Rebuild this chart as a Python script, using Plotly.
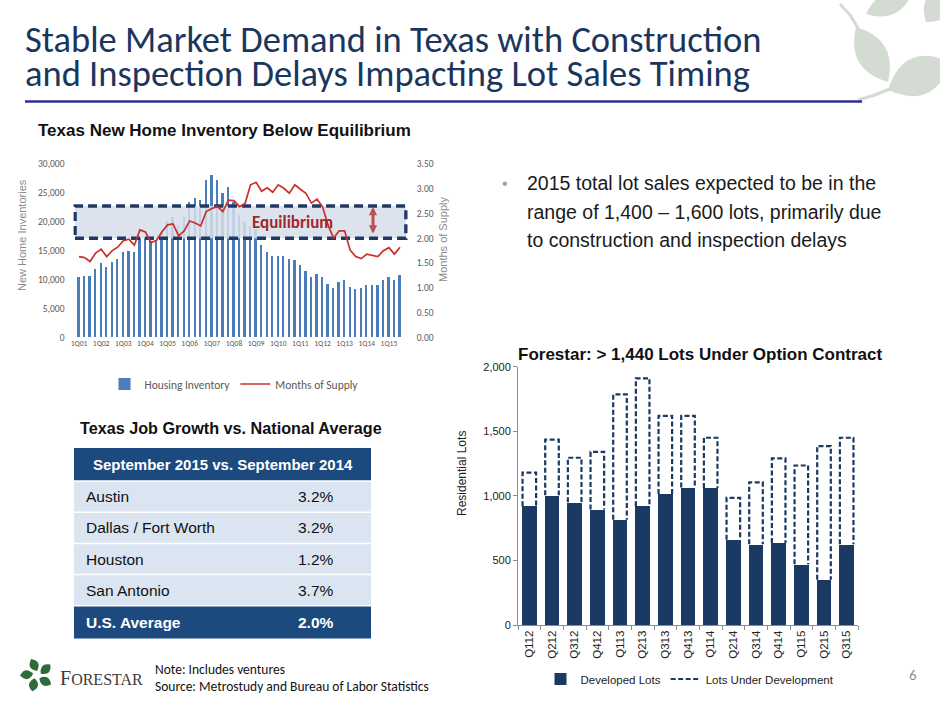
import math
import plotly.graph_objects as go

W, H = 940, 705


def px(x):
    return x / W


def py(y):
    return 1 - y / H


NARROW = "Liberation Sans Narrow, Arial Narrow, Liberation Sans, Arial, sans-serif"
CAL = "Carlito, Calibri, Lato, sans-serif"
NAVY = "#1b365d"

# ---------------- data: Texas new home inventory ----------------
quarters = [f"{q}Q{y:02d}" for y in range(1, 16) for q in range(1, 5)][:59]
housing_inventory = [
    10500, 10600, 10600, 11800, 12900, 12100, 13000, 13600, 14800, 15000,
    14800, 17300, 17300, 16700, 16800, 18300, 20200, 20900, 19300, 20900,
    23500, 24100, 23800, 27200, 28100, 27200, 24900, 26000, 23500, 21200,
    20000, 19200, 18800, 16000, 14700, 14000, 14100, 14100, 13500, 13300,
    12600, 11400, 10400, 10900, 10500, 9300, 8500, 9500, 10000, 8700,
    8300, 8500, 9100, 9100, 9100, 10000, 10500, 9900, 10800,
]
months_of_supply = [
    1.63, 1.61, 1.53, 1.70, 1.78, 1.63, 1.75, 1.82, 1.95, 1.98,
    1.86, 2.17, 2.13, 1.91, 1.96, 2.13, 2.27, 2.29, 2.05, 2.15,
    2.35, 2.31, 2.25, 2.54, 2.60, 2.64, 2.54, 2.77, 2.76, 2.64,
    2.70, 3.08, 3.13, 2.95, 3.02, 2.93, 3.08, 3.01, 2.91, 3.08,
    2.99, 2.91, 2.71, 2.79, 2.64, 2.27, 2.00, 2.15, 2.15, 1.76,
    1.63, 1.59, 1.68, 1.65, 1.63, 1.75, 1.81, 1.68, 1.82,
]
inventory_tick_labels = [f"1Q{y:02d}" for y in range(1, 16)]
equilibrium_band = [2.0, 2.65]

# ---------------- data: Forestar lots ----------------
lot_quarters = ["Q112", "Q212", "Q312", "Q412", "Q113", "Q213", "Q313", "Q413",
                "Q114", "Q214", "Q314", "Q414", "Q115", "Q215", "Q315"]
developed_lots = [920, 1005, 950, 895, 815, 920, 1015, 1065, 1060, 660, 625, 635, 470, 350, 625]
lots_under_development = [260, 430, 345, 445, 970, 990, 605, 555, 390, 325, 480, 655, 765, 1035, 825]

# ---------------- data: job growth table ----------------
table_header = "September 2015 vs. September 2014"
table_markets = ["Austin", "Dallas / Fort Worth", "Houston", "San Antonio", "U.S. Average"]
table_growth = ["3.2%", "3.2%", "1.2%", "3.7%", "2.0%"]

fig = go.Figure()

# ---- top chart ----
qidx = list(range(len(quarters)))
fig.add_trace(go.Bar(
    x=qidx, y=housing_inventory, name="Housing Inventory",
    marker=dict(color="#4a7ebb", line=dict(width=0)), width=0.42,
    xaxis="x", yaxis="y", legend="legend",
))
# equilibrium band (drawn between bars and line)
bx0, bx1 = -0.72, len(quarters) - 1 + 1.08
fig.add_trace(go.Scatter(
    x=[bx0, bx1, bx1, bx0, bx0],
    y=[equilibrium_band[0], equilibrium_band[0], equilibrium_band[1], equilibrium_band[1], equilibrium_band[0]],
    mode="lines", fill="toself", fillcolor="rgba(214,222,234,0.85)",
    line=dict(color="#1f3864", width=3.5, dash="9px,5px"),
    showlegend=False, hoverinfo="skip", xaxis="x", yaxis="y2",
))
fig.add_trace(go.Scatter(
    x=qidx, y=months_of_supply, name="Months of Supply", mode="lines",
    line=dict(color="#c9302c", width=1.7),
    xaxis="x", yaxis="y2", legend="legend",
))

# ---- bottom chart ----
lidx = list(range(len(lot_quarters)))
fig.add_trace(go.Bar(
    x=lidx, y=developed_lots, name="Developed Lots",
    marker=dict(color="#1b3a63", line=dict(width=0)), width=0.65,
    xaxis="x2", yaxis="y3", legend="legend2",
))
xs, ys = [], []
for i, d, u in zip(lidx, developed_lots, lots_under_development):
    l, r = i - 0.3, i + 0.3
    xs += [l, l, r, r, None]
    ys += [d, d + u, d + u, d, None]
fig.add_trace(go.Scatter(
    x=xs, y=ys, mode="lines", name="Lots Under Development",
    line=dict(color="#1b3a63", width=2.2, dash="5px,2.5px"),
    xaxis="x2", yaxis="y3", legend="legend2", connectgaps=False,
))

spacing = 5.534
x0pix = 79
xr = [-1.0, len(quarters) - 1 + 1.4]
dom_l = x0pix + xr[0] * spacing
dom_r = x0pix + xr[1] * spacing

fig.update_layout(
    width=W, height=H, margin=dict(l=0, r=0, t=0, b=0, pad=0, autoexpand=False),
    paper_bgcolor="white", plot_bgcolor="rgba(0,0,0,0)",
    barmode="overlay", bargap=0,
    font=dict(family=CAL, color="#595959"),
    xaxis=dict(
        domain=[px(dom_l), px(dom_r)], anchor="y", range=xr, automargin=False,
        tickvals=[qidx[quarters.index(t)] for t in inventory_tick_labels],
        ticktext=inventory_tick_labels, tickangle=0,
        tickfont=dict(size=7.6, color="#595959", family=CAL),
        showgrid=False, zeroline=False, showline=False, ticks="",
    ),
    yaxis=dict(
        domain=[py(337.3), py(164)], anchor="x", range=[0, 30000], automargin=False,
        tickvals=[0, 5000, 10000, 15000, 20000, 25000, 30000], tickformat=",",
        tickfont=dict(size=9.5, color="#595959", family=CAL),
        showgrid=False, zeroline=False, showline=False, ticks="",
        ticklabelstandoff=8,
    ),
    yaxis2=dict(
        overlaying="y", side="right", anchor="x", range=[0, 3.5], automargin=False,
        tickvals=[0, 0.5, 1, 1.5, 2, 2.5, 3, 3.5], tickformat=".2f",
        tickfont=dict(size=9.5, color="#595959", family=CAL),
        showgrid=False, zeroline=False, showline=False, ticks="",
        ticklabelstandoff=8,
    ),
    xaxis2=dict(
        domain=[px(518), px(858)], anchor="y3", range=[-0.5, len(lot_quarters) - 0.5],
        automargin=False,
        tickvals=lidx, ticktext=lot_quarters, tickangle=-90,
        tickfont=dict(size=11.5, color="#222222", family=NARROW),
        showgrid=False, zeroline=False, showline=True, linecolor="#8c8c8c", linewidth=1,
        ticks="",
        minor=dict(tickvals=[i - 0.5 for i in lidx] + [len(lidx) - 0.5], ticks="outside",
                   ticklen=4, tickcolor="#8c8c8c", showgrid=False),
    ),
    yaxis3=dict(
        domain=[py(625), py(366.7)], anchor="x2", range=[0, 2000], automargin=False,
        tickvals=[0, 500, 1000, 1500, 2000], tickformat=",",
        tickfont=dict(size=11, color="#222222", family=NARROW),
        showgrid=False, zeroline=False, showline=True, linecolor="#8c8c8c", linewidth=1,
        ticks="outside", ticklen=4, tickcolor="#8c8c8c",
    ),
    legend=dict(
        orientation="h", x=px(234), xanchor="center", y=py(384), yanchor="middle",
        font=dict(size=11.5, color="#595959", family=CAL), bgcolor="rgba(0,0,0,0)",
        itemwidth=30,
    ),
    legend2=dict(
        orientation="h", x=px(690), xanchor="center", y=py(679), yanchor="middle",
        font=dict(size=11.5, color="#222222", family=NARROW), bgcolor="rgba(0,0,0,0)",
        itemwidth=30,
    ),
)

shapes = []
annotations = []


def ann(x, y, text, size, color="#111111", family=NARROW, xanchor="left", **kw):
    d = dict(x=px(x), y=py(y), xref="paper", yref="paper", text=text, showarrow=False,
             xanchor=xanchor, yanchor="middle", font=dict(size=size, color=color, family=family))
    d.update(kw)
    annotations.append(d)


# Title
ann(23, 39.5, "Stable Market Demand in Texas with Construction", 36.5, NAVY, CAL)
ann(23, 73.5, "and Inspection Delays Impacting Lot Sales Timing", 36.5, NAVY, CAL)
shapes.append(dict(type="line", xref="paper", yref="paper", x0=px(25), x1=px(862),
                   y0=py(101.5), y1=py(101.5), line=dict(color="#2e3192", width=2.5)))

# decorative leaves top right
LEAF = "#d4dbd3"


def leaf(base, tip, w):
    bx, by = base
    tx, ty = tip
    mx, my = (bx + tx) / 2, (by + ty) / 2
    dx, dy = tx - bx, ty - by
    L = math.hypot(dx, dy)
    nx, ny = -dy / L, dx / L
    c1 = (mx + nx * w, my + ny * w)
    c2 = (mx - nx * w, my - ny * w)
    def p(pt):
        return f"{px(pt[0]):.5f},{py(pt[1]):.5f}"
    return f"M {p(base)} Q {p(c1)} {p(tip)} Q {p(c2)} {p(base)} Z"


def leaf_shape(base, tip, w, color):
    shapes.append(dict(type="path", xref="paper", yref="paper", path=leaf(base, tip, w),
                       fillcolor=color, line=dict(width=0), layer="below"))


def stem(pts, color, width):
    s = "M " + " L ".join(f"{px(a):.5f},{py(b):.5f}" for a, b in pts)
    shapes.append(dict(type="path", xref="paper", yref="paper", path=s,
                       line=dict(color=color, width=width), layer="below"))


stem([(840, 4), (850, 15), (858, 28)], LEAF, 3)
leaf_shape((856, 27), (888, 82), 30, LEAF)
leaf_shape((866, 14), (912, -6), 22, LEAF)
leaf_shape((926, 22), (948, -8), 26, LEAF)
stem([(858, 100), (875, 95), (892, 88)], LEAF, 3)
leaf_shape((888, 90), (950, 62), 38, LEAF)

# Top-left chart title and axis titles
ann(36, 131, "<b>Texas New Home Inventory Below Equilibrium</b>", 17)
ann(22, 235, "New Home Inventories", 11, "#8c8c8c", NARROW, xanchor="center", textangle=-90)
ann(443, 240, "Months of Supply", 11, "#8c8c8c", NARROW, xanchor="center", textangle=-90)
annotations.append(dict(x=px(292), y=2.32, xref="paper", yref="y2", text="<b>Equilibrium</b>",
                        showarrow=False, xanchor="center", yanchor="middle",
                        font=dict(size=17, color="#a3262a", family=CAL)))
annotations.append(dict(x=px(373), y=2.63, xref="paper", yref="y2", text="", showarrow=True,
                        ax=0, ay=28, arrowside="end+start", arrowhead=2, arrowsize=0.55,
                        arrowwidth=3, arrowcolor="#c0504d"))

# Bullet text
ann(500, 183, "•", 16, "#9aa39a", NARROW)
bullet_lines = ["2015 total lot sales expected to be in the",
                "range of 1,400 – 1,600 lots, primarily due",
                "to construction and inspection delays"]
for k, line in enumerate(bullet_lines):
    ann(525, 183 + k * 28.5, line, 19.5, "#1a1a1a", NARROW)

# Bottom chart title & axis title
ann(700, 355, "<b>Forestar: > 1,440 Lots Under Option Contract</b>", 17, "#111111", NARROW, xanchor="center")
ann(462, 474, "Residential Lots", 12, "#222222", NARROW, xanchor="center", textangle=-90)

# Table
ann(231, 428, "<b>Texas Job Growth vs. National Average</b>", 16.2, "#111111", NARROW, xanchor="center")
TX0, TX1 = 74, 371
shapes.append(dict(type="rect", xref="paper", yref="paper", x0=px(TX0), x1=px(TX1),
                   y0=py(481), y1=py(448), fillcolor="#1d4a7e", line=dict(width=0)))
ann((TX0 + TX1) / 2, 464.5, f"<b>{table_header}</b>", 15, "white", NARROW, xanchor="center")
row_top = 481
row_h = 31.2
for k, (m, g) in enumerate(zip(table_markets, table_growth)):
    y0 = row_top + k * row_h
    last = k == len(table_markets) - 1
    shapes.append(dict(type="rect", xref="paper", yref="paper", x0=px(TX0), x1=px(TX1),
                       y0=py(y0 + row_h + (1.5 if last else 0)), y1=py(y0),
                       fillcolor="#1d4a7e" if last else "#dbe5f1", line=dict(width=0)))
    if k > 0:
        shapes.append(dict(type="line", xref="paper", yref="paper", x0=px(TX0), x1=px(TX1),
                           y0=py(y0), y1=py(y0), line=dict(color="white", width=1.5)))
    col = "white" if last else "#111111"
    mt = f"<b>{m}</b>" if last else m
    gt = f"<b>{g}</b>" if last else g
    ann(84, y0 + row_h / 2 + (0.8 if last else 0), mt, 15.5, col, NARROW)
    ann(296, y0 + row_h / 2 + (0.8 if last else 0), gt, 15.5, col, NARROW)
shapes.append(dict(type="line", xref="paper", yref="paper", x0=px(TX0), x1=px(TX1),
                   y0=py(481), y1=py(481), line=dict(color="white", width=1.5)))

# Logo
LOGO = "#2f6b3a"
cx, cy = 37, 675
for a in [90, 162, 234, 306, 18]:
    r = math.radians(a)
    base = (cx + 4 * math.cos(r), cy - 4 * math.sin(r))
    tip = (cx + 17 * math.cos(r + 0.35), cy - 17 * math.sin(r + 0.35))
    leaf_shape(base, tip, 9, LOGO)
ann(58, 678, "F<span style='font-size:16px'>ORESTAR</span>", 20, "#3b3b3b",
    "Liberation Serif, DejaVu Serif, serif")
ann(153, 669, "Note: Includes ventures", 13.5, "#111111", CAL)
ann(153, 686, "Source: Metrostudy and Bureau of Labor Statistics", 13.5, "#111111", CAL)
ann(913, 675, "6", 15, "#7f8fa9", CAL, xanchor="center")

fig.update_layout(shapes=shapes, annotations=annotations)
fig.write_html("out.html", config={"displayModeBar": False},
               post_script="document.body.style.margin='0px';document.body.style.overflow='hidden';")
